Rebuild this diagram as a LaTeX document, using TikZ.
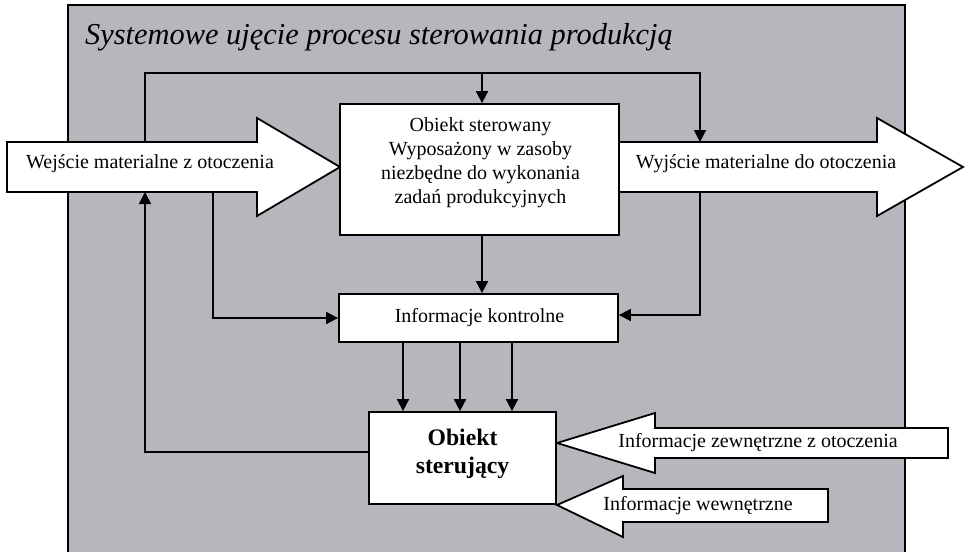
\documentclass[tikz,border=0pt]{standalone}
\usepackage{fontspec}
\setmainfont{Liberation Serif}
\usetikzlibrary{arrows.meta,calc}
\definecolor{panelgray}{RGB}{182,183,188}

\begin{document}
\begin{tikzpicture}[x=1pt,y=-1pt,
  conn/.style={line width=1.8pt, -{Triangle[length=12pt,width=12pt]}},
  box/.style={draw, fill=white, line width=1.8pt, inner sep=0pt},
  blockarrow/.style={draw, fill=white, line width=1.8pt, line join=miter},
  lbl/.style={inner sep=0pt, align=center, font=\fontsize{20}{24}\selectfont}]
\useasboundingbox (0,0) rectangle (965,551);
\clip (0,0) rectangle (965,551);

% grey panel
\draw[fill=panelgray, line width=1.8pt] (68,5) rectangle (905,580);
\node[anchor=base west, inner sep=0pt, font=\fontsize{30.4}{36}\selectfont\itshape]
  (title) at (85,45) {Systemowe ujęcie procesu sterowania produkcją};

% material flow arrows
\draw[blockarrow] (7,142) -- (257,142) -- (257,118) -- (340,167) -- (257,216)
  -- (257,192) -- (7,192) -- cycle;
\draw[blockarrow] (619,142) -- (877,142) -- (877,118) -- (963,167) -- (877,216)
  -- (877,192) -- (619,192) -- cycle;
\node[lbl] (inlbl) at (150,164) {Wejście materialne z otoczenia};
\node[lbl] (outlbl) at (766,164) {Wyjście materialne do otoczenia};

% information arrows
\draw[blockarrow] (557,443) -- (655,413) -- (655,428) -- (948,428) -- (948,458)
  -- (655,458) -- (655,473) -- cycle;
\draw[blockarrow] (557,505) -- (623,476) -- (623,489) -- (828,489) -- (828,522)
  -- (623,522) -- (623,537) -- cycle;
\node[lbl] (extlbl) at (758,443) {Informacje zewnętrzne z otoczenia};
\node[lbl] (intlbl) at (698,506) {Informacje wewnętrzne};

% blocks
\node[box, minimum width=279pt, minimum height=131pt] (obj) at (479.5,169.5) {};
\node[lbl] (objtxt) at (480.5,163)
  {Obiekt sterowany\\Wyposażony w zasoby\\niezbędne do wykonania\\zadań produkcyjnych};
\node[box, minimum width=279pt, minimum height=48pt] (info) at (478.5,318) {};
\node[lbl] (infotxt) at (479.5,318) {Informacje kontrolne};
\node[box, minimum width=187pt, minimum height=92pt] (ster) at (462.5,458) {};
\node[lbl, font=\fontsize{23.7}{28}\selectfont\bfseries] (stertxt) at (462.5,454)
  {Obiekt\\sterujący};

% connection points on the material arrows
\coordinate (inTop) at (145,142);
\coordinate (inBot) at (213,192);
\coordinate (inRet) at (145,192);
\coordinate (outTop) at (700,142);
\coordinate (outBot) at (700,192);
\coordinate (busL) at (145,73);
\coordinate (busR) at (700,73);

% feed-forward bus over the controlled object
\draw[conn] (inTop) -- (busL) -- (busR) -- (outTop);
\draw[conn] ([xshift=2.5pt]obj.north |- busL) -- ([xshift=2.5pt]obj.north);

% control information
\draw[conn] ([xshift=2.5pt]obj.south) -- ([xshift=2.5pt]obj.south |- info.north);
\draw[conn] (inBot) |- (info.west);
\draw[conn] (outBot) |- ([yshift=3pt]info.east);
\foreach \dx in {-59.5,-2.5,49.5}
  \draw[conn] ([xshift=\dx pt]ster.north |- info.south) -- ([xshift=\dx pt]ster.north);

% control action back to the input
\draw[conn] ($(ster.west)+(0,-6)$) -| (inRet);
\end{tikzpicture}
\end{document}
